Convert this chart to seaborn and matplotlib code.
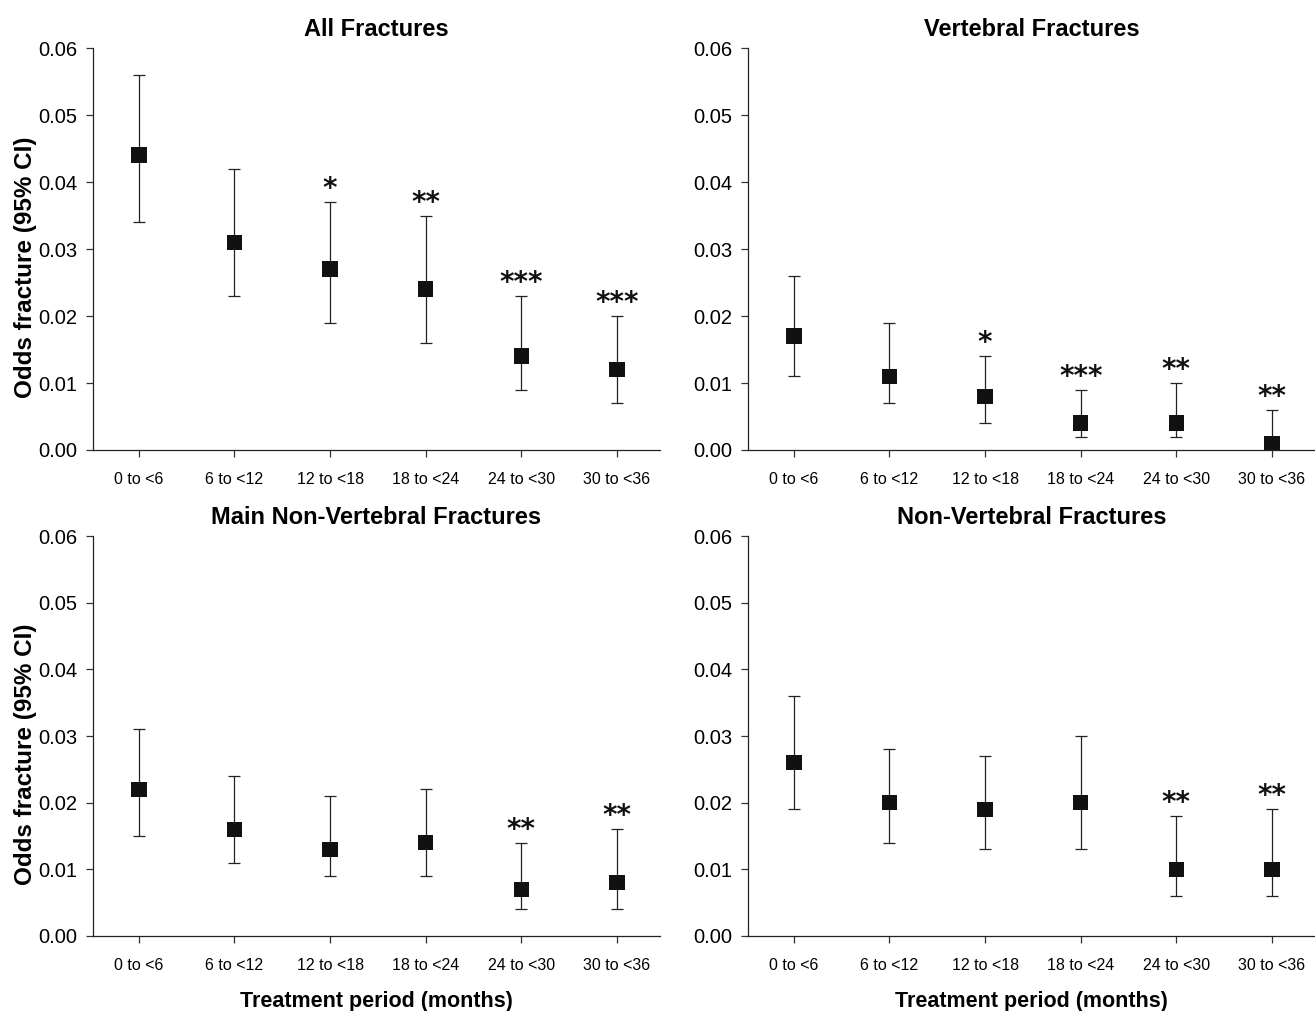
import numpy as np
import pandas as pd
import matplotlib
matplotlib.use("Agg")
import matplotlib.pyplot as plt
import seaborn as sns

# Data
periods = ["0 to <6", "6 to <12", "12 to <18", "18 to <24", "24 to <30", "30 to <36"]

all_est = [0.044, 0.031, 0.027, 0.024, 0.014, 0.012]
all_lo = [0.034, 0.023, 0.019, 0.016, 0.009, 0.007]
all_hi = [0.056, 0.042, 0.037, 0.035, 0.023, 0.020]
all_sig = ["", "", "*", "**", "***", "***"]

vert_est = [0.017, 0.011, 0.008, 0.004, 0.004, 0.001]
vert_lo = [0.011, 0.007, 0.004, 0.002, 0.002, 0.000]
vert_hi = [0.026, 0.019, 0.014, 0.009, 0.010, 0.006]
vert_sig = ["", "", "*", "***", "**", "**"]

mainnv_est = [0.022, 0.016, 0.013, 0.014, 0.007, 0.008]
mainnv_lo = [0.015, 0.011, 0.009, 0.009, 0.004, 0.004]
mainnv_hi = [0.031, 0.024, 0.021, 0.022, 0.014, 0.016]
mainnv_sig = ["", "", "", "", "**", "**"]

nv_est = [0.026, 0.020, 0.019, 0.020, 0.010, 0.010]
nv_lo = [0.019, 0.014, 0.013, 0.013, 0.006, 0.006]
nv_hi = [0.036, 0.028, 0.027, 0.030, 0.018, 0.019]
nv_sig = ["", "", "", "", "**", "**"]

yticks = [0.00, 0.01, 0.02, 0.03, 0.04, 0.05, 0.06]

sns.set_theme(style="ticks")
plt.rcParams['font.family'] = ['Liberation Sans', 'DejaVu Sans']
plt.rcParams['text.color'] = 'black'
plt.rcParams['axes.labelcolor'] = 'black'
plt.rcParams['xtick.color'] = '#333333'
plt.rcParams['ytick.color'] = '#333333'
plt.rcParams['xtick.labelcolor'] = 'black'
plt.rcParams['ytick.labelcolor'] = 'black'

fig = plt.figure(figsize=(13.15, 10.11), dpi=100)

panels = [
    ("All Fractures", all_est, all_lo, all_hi, all_sig, [0.0707, 0.5549, 0.4312, 0.3976], True, False),
    ("Vertebral Fractures", vert_est, vert_lo, vert_hi, vert_sig, [0.5688, 0.5549, 0.4312, 0.3976], False, False),
    ("Main Non-Vertebral Fractures", mainnv_est, mainnv_lo, mainnv_hi, mainnv_sig, [0.0707, 0.0742, 0.4312, 0.3956], True, True),
    ("Non-Vertebral Fractures", nv_est, nv_lo, nv_hi, nv_sig, [0.5688, 0.0742, 0.4312, 0.3956], False, True),
]

for title, est, lo, hi, sig, rect, show_ylab, show_xlab in panels:
    ax = fig.add_axes(rect)
    df = pd.DataFrame({"period": periods, "odds": est, "lo": lo, "hi": hi})
    yerr = [df["odds"] - df["lo"], df["hi"] - df["odds"]]
    ax.errorbar(df["period"], df["odds"], yerr=yerr, fmt="none", ecolor="#222222",
                elinewidth=0.9, capsize=4.5, capthick=0.9, zorder=2)
    sns.scatterplot(data=df, x="period", y="odds", marker="s", s=125, color="#111111",
                    edgecolor="none", ax=ax, zorder=3)

    # significance stars above the upper CI
    for i, star in enumerate(sig):
        if star:
            ax.annotate(star, (i, hi[i]), xytext=(0, 3.5), textcoords="offset points",
                        ha="center", va="baseline", fontsize=20, fontweight="bold",
                        family="DejaVu Sans", color="#111111")

    ax.set_xlim(-0.48, 5.45)
    ax.set_ylim(0, 0.06)
    ax.set_yticks(yticks)
    ax.set_yticklabels([f"{v:.2f}" for v in yticks], fontsize=14.5)
    ax.tick_params(axis="x", labelsize=11.5, length=5, width=0.9, pad=11)
    ax.tick_params(axis="y", length=5, width=0.9, pad=6)
    ax.set_title(title, fontsize=17, fontweight="bold", pad=9)
    sns.despine(ax=ax)
    for sp in ["left", "bottom"]:
        ax.spines[sp].set_linewidth(0.9)
        ax.spines[sp].set_color("#222222")

    if show_ylab:
        ax.set_ylabel("Odds fracture (95% CI)", fontsize=17.5, fontweight="bold",
                      labelpad=1, y=0.455)
    else:
        ax.set_ylabel("")
    ax.set_xlabel("Treatment period (months)" if show_xlab else "", fontsize=15.5,
                  fontweight="bold", labelpad=13)

fig.savefig("out.png", dpi=100)
